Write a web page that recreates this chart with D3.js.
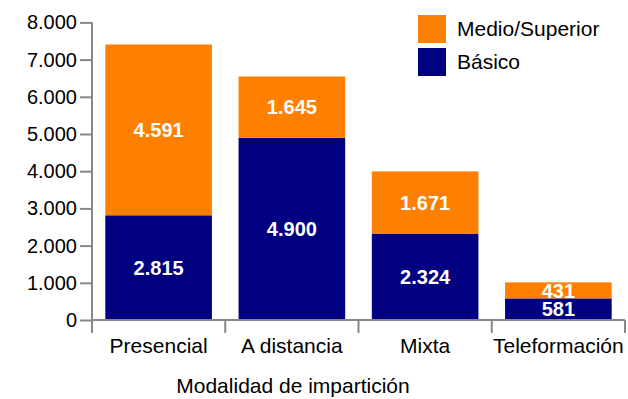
<!DOCTYPE html>
<html>
<head>
<meta charset="utf-8">
<script src="https://cdn.jsdelivr.net/npm/d3@7"></script>
<style>
  html, body { margin: 0; padding: 0; background: #fff; }
  svg { display: block; font-family: "Liberation Sans", Arial, sans-serif; }
</style>
</head>
<body>
<svg id="chart" width="628" height="399"></svg>
<script>
// Enrolment by delivery mode, split by qualification level
const categories = ["Presencial", "A distancia", "Mixta", "Teleformación"];
const basico = [2815, 4900, 2324, 581];
const medioSuperior = [4591, 1645, 1671, 431];
const seriesNames = ["Básico", "Medio/Superior"];
const seriesColors = ["#000080", "#FF8000"];
const yTicks = [0, 1000, 2000, 3000, 4000, 5000, 6000, 7000, 8000];
const xTitle = "Modalidad de impartición";

const svg = d3.select("#chart");
const axisColor = "#888888";
const tickFont = 20;
const labelFont = 21;
const fmt = v => d3.format(",")(v).replace(/,/g, ".");

const x = d3.scaleBand().domain(categories).range([92, 625]).paddingInner(0.2).paddingOuter(0.1);
const y = d3.scaleLinear().domain([0, 8000]).range([320, 22.4]);

const rows = categories.map((c, i) => ({ cat: c, "Básico": basico[i], "Medio/Superior": medioSuperior[i] }));
const stacked = d3.stack().keys(seriesNames)(rows);

// Bars and their value labels
stacked.forEach((layer, li) => {
  const g = svg.append("g");
  g.selectAll("rect").data(layer).join("rect")
    .attr("x", d => x(d.data.cat))
    .attr("width", x.bandwidth())
    .attr("y", d => y(d[1]))
    .attr("height", d => y(d[0]) - y(d[1]))
    .attr("fill", seriesColors[li]);
  g.selectAll("text").data(layer).join("text")
    .attr("x", d => x(d.data.cat) + x.bandwidth() / 2)
    .attr("y", d => (y(d[0]) + y(d[1])) / 2)
    .attr("dy", "0.36em")
    .attr("text-anchor", "middle")
    .attr("fill", "#fff")
    .attr("font-weight", "bold")
    .attr("font-size", tickFont)
    .text(d => fmt(d[1] - d[0]));
});

// Y axis
const yAxis = svg.append("g").attr("transform", "translate(92,0)")
  .call(d3.axisLeft(y).tickValues(yTicks).tickFormat(fmt).tickSize(12).tickSizeOuter(0));
yAxis.select(".domain").attr("stroke", axisColor).attr("stroke-width", 2)
  .attr("d", `M0,${y(8000)}V333`);
yAxis.selectAll(".tick line").attr("stroke", axisColor).attr("stroke-width", 2);
yAxis.selectAll(".tick text").attr("font-size", tickFont).attr("fill", "#000")
  .attr("font-family", "Liberation Sans, Arial, sans-serif").attr("x", -15);

// X axis with ticks at category boundaries
const xg = svg.append("g");
xg.append("line").attr("x1", 92).attr("x2", 625).attr("y1", 320).attr("y2", 320)
  .attr("stroke", axisColor).attr("stroke-width", 2);
const step = x.step();
const bounds = categories.map(c => x(c) - step * x.paddingInner() / 2);
bounds.push(x(categories[categories.length - 1]) + x.bandwidth() + step * x.paddingInner() / 2);
xg.selectAll("line.tk").data(bounds.slice(1)).join("line").attr("class", "tk")
  .attr("x1", d => d).attr("x2", d => d).attr("y1", 320).attr("y2", 333)
  .attr("stroke", axisColor).attr("stroke-width", 2);
xg.selectAll("text").data(categories).join("text")
  .attr("x", d => x(d) + x.bandwidth() / 2)
  .attr("y", 353)
  .attr("text-anchor", "middle")
  .attr("font-size", labelFont)
  .attr("fill", "#000")
  .text(d => d);

svg.append("text").attr("x", 293).attr("y", 393).attr("text-anchor", "middle")
  .attr("font-size", labelFont).attr("fill", "#000").text(xTitle);

// Legend (top series first)
const legendItems = [1, 0];
const lg = svg.append("g");
legendItems.forEach((si, i) => {
  lg.append("rect").attr("x", 418).attr("y", 15 + i * 33).attr("width", 28).attr("height", 28)
    .attr("fill", seriesColors[si]);
  lg.append("text").attr("x", 457).attr("y", 28.5 + i * 33).attr("dy", "0.35em")
    .attr("font-size", labelFont).attr("fill", "#000").text(seriesNames[si]);
});
</script>
</body>
</html>
